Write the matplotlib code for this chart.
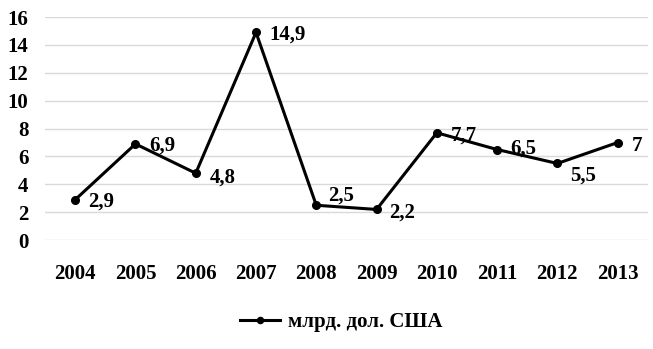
import matplotlib.pyplot as plt

plt.rcParams['font.family'] = ['Liberation Serif', 'DejaVu Serif']
plt.rcParams['font.weight'] = 'bold'

# данные
years = ['2004', '2005', '2006', '2007', '2008', '2009', '2010', '2011', '2012', '2013']
values = [2.9, 6.9, 4.8, 14.9, 2.5, 2.2, 7.7, 6.5, 5.5, 7.0]
labels = ['2,9', '6,9', '4,8', '14,9', '2,5', '2,2', '7,7', '6,5', '5,5', '7']
# смещения подписей (пиксели, до базовой линии текста)
offsets = [(13, -7), (14, -7), (14, -9), (13, -7), (12, 5), (13, -8), (14, -8), (13, -4), (13, -17), (14, -8)]

fig = plt.figure(figsize=(6.53, 3.49), dpi=100)
ax = fig.add_axes([0.069, 0.312, 0.923, 0.639])

x = list(range(len(years)))
ax.plot(x, values, color='black', linewidth=2.2, marker='o', markersize=5.5,
        label='млрд. дол. США', zorder=3)

for xi, v, t, (dx, dy) in zip(x, values, labels, offsets):
    ax.annotate(t, (xi, v), xytext=(dx, dy), textcoords='offset pixels',
                ha='left', va='baseline', fontsize=15, fontweight='bold')

ax.set_xlim(-0.5, len(years) - 0.5)
ax.set_ylim(0, 16)
ax.set_yticks(range(0, 17, 2))
ax.set_xticks(x)
ax.set_xticklabels(years)
ax.tick_params(axis='both', length=0, labelsize=15)
ax.tick_params(axis='x', pad=17)
ax.tick_params(axis='y', pad=12)
ax.grid(axis='y', color='#d9d9d9', linewidth=1)
ax.set_axisbelow(True)
for s in ax.spines.values():
    s.set_visible(False)

fig.legend(loc='center', bbox_to_anchor=(0.523, 0.077), frameon=False,
           fontsize=15, handlelength=1.9, handletextpad=0.4, markerscale=0.8)

plt.savefig('out.png', dpi=100)
